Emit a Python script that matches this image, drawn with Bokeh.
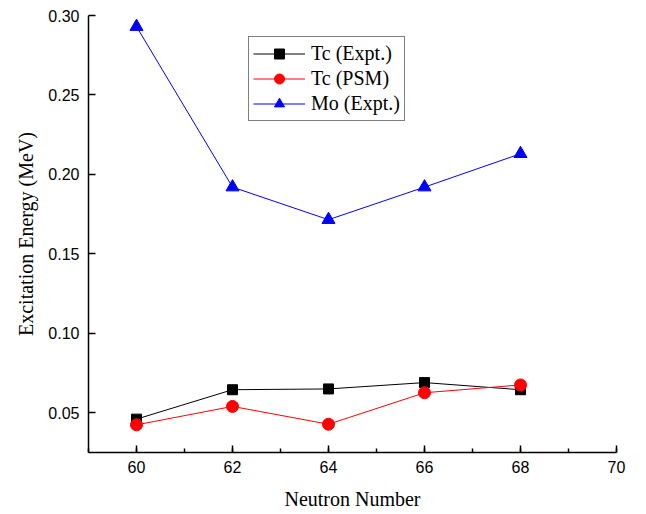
from bokeh.plotting import figure
from bokeh.models import SingleIntervalTicker, FixedTicker, NumeralTickFormatter, Legend, Range1d
from bokeh.embed import file_html
from bokeh.resources import INLINE

neutrons = [60, 62, 64, 66, 68]
tc_expt = [0.046, 0.0645, 0.065, 0.069, 0.0645]
tc_psm = [0.0424, 0.054, 0.0428, 0.0626, 0.0675]
mo_expt = [0.293, 0.192, 0.1715, 0.192, 0.213]
y_ticks = [0.05, 0.10, 0.15, 0.20, 0.25, 0.30]

p = figure(frame_width=528, frame_height=437, output_backend="svg", toolbar_location=None,
           x_range=Range1d(59, 70), y_range=Range1d(0.025, 0.30),
           min_border_left=88, min_border_top=15, min_border_right=20, min_border_bottom=50)
p.outline_line_color = None
p.xgrid.visible = False
p.ygrid.visible = False
p.background_fill_color = "white"

l1 = p.line(neutrons, tc_expt, line_color="black", line_width=1)
s1 = p.scatter(neutrons, tc_expt, marker="square", size=10, fill_color="black", line_color="black")
l2 = p.line(neutrons, tc_psm, line_color="red", line_width=1)
s2 = p.scatter(neutrons, tc_psm, marker="circle", size=12, fill_color="red", line_color="red")
l3 = p.line(neutrons, mo_expt, line_color="blue", line_width=1)
s3 = p.scatter(neutrons, mo_expt, marker="triangle", size=13, fill_color="blue", line_color="blue")

legend = Legend(items=[("Tc (Expt.)", [l1, s1]), ("Tc (PSM)", [l2, s2]), ("Mo (Expt.)", [l3, s3])],
                location=(160, 331))
legend.label_text_font = "Liberation Serif"
legend.label_text_font_size = "20px"
legend.label_text_color = "black"
legend.glyph_width = 52
legend.glyph_height = 25
legend.label_height = 20
legend.spacing = 0
legend.padding = 4
legend.label_standoff = 6
legend.border_line_color = "black"
legend.border_line_width = 1
legend.margin = 0
p.add_layout(legend)

for ax in (p.xaxis[0], p.yaxis[0]):
    ax.axis_line_width = 1.5
    ax.axis_line_color = "black"
    ax.major_tick_line_width = 1.5
    ax.major_tick_line_color = "black"
    ax.minor_tick_line_width = 1.5
    ax.minor_tick_line_color = "black"
    ax.major_tick_in = 7
    ax.major_tick_out = 0
    ax.minor_tick_in = 4
    ax.minor_tick_out = 0
    ax.major_label_text_font = "Liberation Sans"
    ax.major_label_text_font_size = "16px"
    ax.major_label_text_color = "black"
    ax.axis_label_text_font = "Liberation Serif"
    ax.axis_label_text_font_size = "20px"
    ax.axis_label_text_font_style = "normal"
    ax.axis_label_text_color = "black"

p.xaxis.ticker = SingleIntervalTicker(interval=2, num_minor_ticks=2)
p.yaxis.ticker = FixedTicker(ticks=y_ticks)
p.yaxis.formatter = NumeralTickFormatter(format="0.00")
p.xaxis.axis_label = "Neutron Number"
p.yaxis.axis_label = "Excitation Energy (MeV)"
p.xaxis.major_label_standoff = 8
p.yaxis.major_label_standoff = 9
p.xaxis.axis_label_standoff = 12
p.yaxis.axis_label_standoff = 8

open("out.html", "w").write(file_html(p, INLINE))
